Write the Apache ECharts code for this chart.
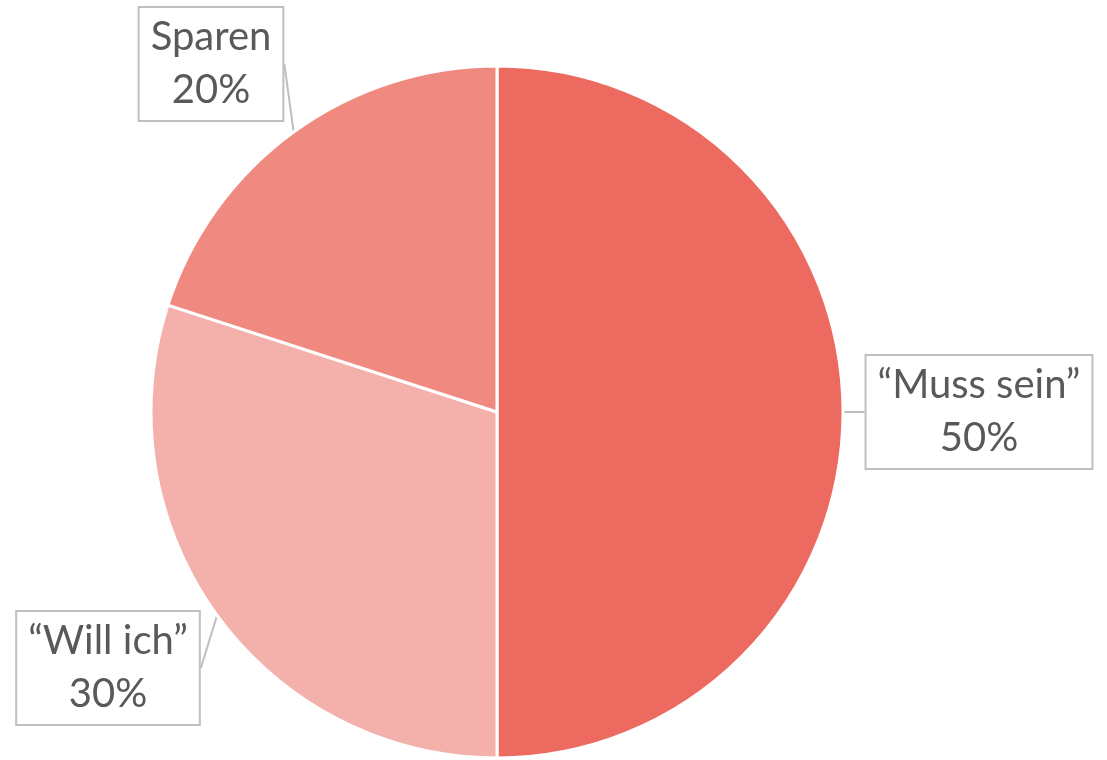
<!DOCTYPE html>
<html>
<head>
<meta charset="utf-8">
<script src="https://cdn.jsdelivr.net/npm/echarts@6/dist/echarts.min.js"></script>
<style>
  html, body { margin: 0; padding: 0; background: #fff; }
  #chart { width: 1107px; height: 760px; }
</style>
</head>
<body>
<div id="chart"></div>
<script>
// Daten
var names = ['“Muss sein”', '“Will ich”', 'Sparen'];
var values = [50, 30, 20];
var colors = ['#EC6A60', '#F4B1AC', '#F08A80'];

// Position der Beschriftungskästen (Mitte)
var labelPos = [[979, 412], [108, 668], [211, 64]];

var chart = echarts.init(document.getElementById('chart'));

chart.setOption({
  animation: false,
  series: [
    {
      type: 'pie',
      center: [497, 412],
      radius: 346,
      startAngle: 90,
      clockwise: true,
      data: names.map(function (n, i) {
        return { name: n, value: values[i], itemStyle: { color: colors[i] } };
      }),
      itemStyle: {
        borderColor: '#fff',
        borderWidth: 3
      },
      label: {
        show: true,
        formatter: '{b}\n{d}%',
        fontFamily: 'Lato, "Open Sans", sans-serif',
        fontSize: 40,
        lineHeight: 53,
        color: '#595959',
        align: 'center',
        overflow: 'none',
        backgroundColor: '#fff',
        borderColor: '#bfbfbf',
        borderWidth: 2,
        padding: [3, 11]
      },
      labelLine: {
        show: true,
        length: 4,
        length2: 0,
        lineStyle: { color: '#bfbfbf', width: 2 }
      },
      labelLayout: function (params) {
        var p = labelPos[params.dataIndex];
        return { x: p[0], y: p[1], align: 'center', verticalAlign: 'middle' };
      }
    }
  ]
});
</script>
</body>
</html>
